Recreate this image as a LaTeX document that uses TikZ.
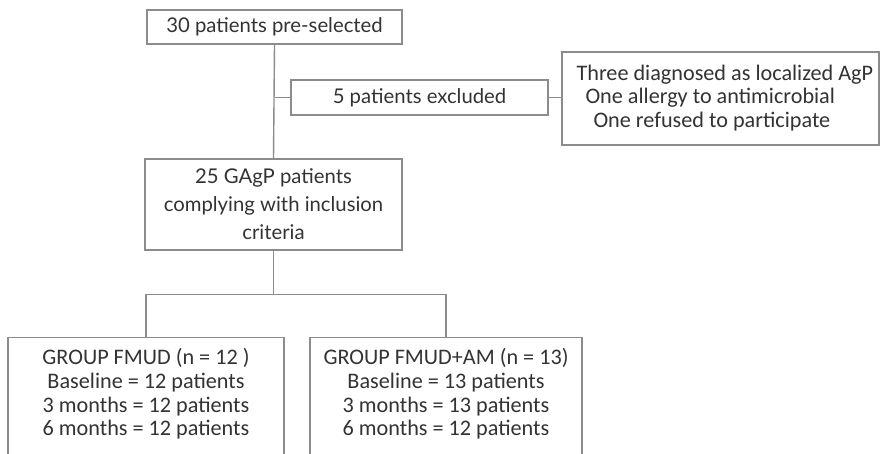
\documentclass[tikz,border=0pt]{standalone}
\usepackage{fontspec}
\setmainfont{Carlito}
\newfontfamily\latofont{Lato}
\definecolor{linegray}{HTML}{8C8C8C}
\definecolor{textgray}{HTML}{333333}
\begin{document}
\begin{tikzpicture}[x=1pt,y=-1pt,
  box/.style={draw=linegray, line width=1.4pt, inner sep=0pt, text=textgray},
  latotext/.style={font=\latofont\fontsize{20.3}{28}\selectfont, align=center, text=textgray},
  calitext/.style={font=\fontsize{22.2}{23.6}\selectfont, align=center, text=textgray},
  conn/.style={draw=linegray, line width=1.4pt}]
\useasboundingbox (0,0) rectangle (880,454);
\clip (0,0) rectangle (880,454);
\fill[white] (0,0) rectangle (880,454);

\node[box, minimum width=255pt, minimum height=34pt, latotext] (b1) at (274.5,27) {30 patients pre-selected};
\node[box, minimum width=257pt, minimum height=35pt, latotext] (b2) at (419.5,97.5) {5 patients excluded};
\node[box, minimum width=317pt, minimum height=93pt] (ex) at (720.5,98.5) {};
\node[calitext, align=left, anchor=west] (extext) at (573,98) {Three diagnosed as localized AgP\\
\hspace*{9pt}One allergy to antimicrobial\\
\hspace*{17pt}One refused to participate};
\node[box, minimum width=257pt, minimum height=91pt, latotext] (b3) at (273.5,204.5) {25 GAgP patients\\complying with inclusion\\criteria};

\node[box, minimum width=276pt, minimum height=140pt, anchor=north] (g1) at (146,337) {};
\node[calitext] (g1text) at (146,394) {GROUP FMUD (n = 12 )\\Baseline = 12 patients\\3 months = 12 patients\\6 months = 12 patients};
\node[box, minimum width=272pt, minimum height=140pt, anchor=north] (g2) at (446,337) {};
\node[calitext] (g2text) at (446,394) {GROUP FMUD+AM (n = 13)\\Baseline = 13 patients\\3 months = 13 patients\\6 months = 12 patients};

\draw[conn] (b1.south) -- (b3.north);
\draw[conn] (b2.west) -- (b2.west -| b1.south);
\draw[conn] (b2.east) -- (b2.east -| ex.west);
\draw[conn] (b3.south) -- ++(0,44) coordinate (j);
\draw[conn] (g1.north) |- (j) -| (g2.north);
\end{tikzpicture}
\end{document}
